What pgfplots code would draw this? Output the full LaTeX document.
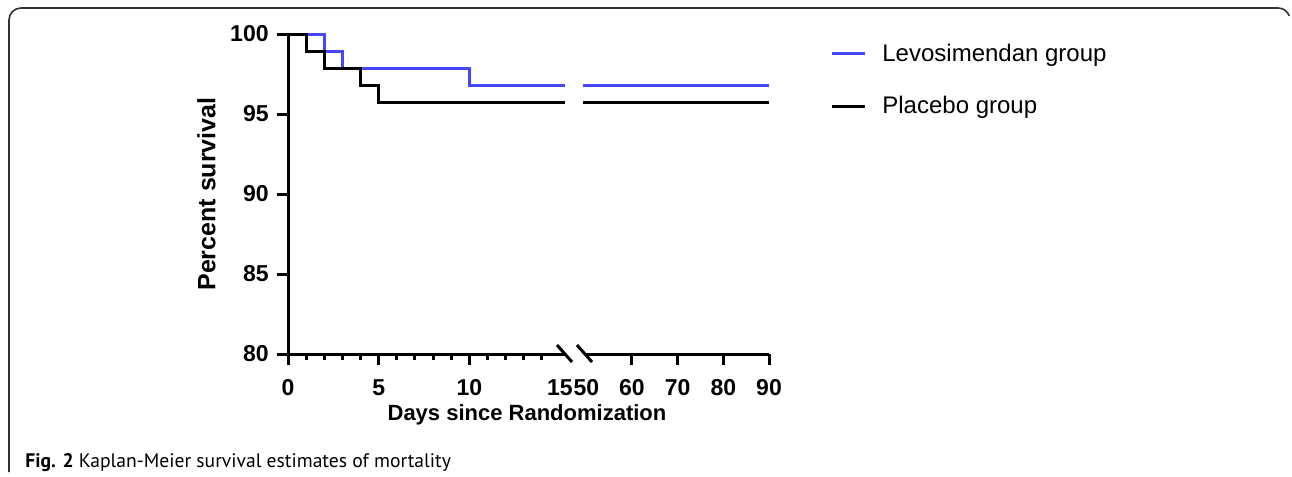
\documentclass[border=0pt]{standalone}
\usepackage{pgfplots}
\pgfplotsset{compat=1.18}
\usepackage{fontspec}
\setmainfont{Liberation Sans}
\newfontfamily\capfont{PT Sans}
\definecolor{levo}{RGB}{70,70,255}
\definecolor{framec}{RGB}{50,50,50}
\pgfplotsset{
  kmbase/.style={
    scale only axis, height=160pt, ymin=80, ymax=100,
    major tick length=5.5pt, minor tick length=3pt,
    xtick style={line width=1.5pt, black},
    ytick style={line width=1.5pt, black},
    tick label style={font=\fontsize{11.5}{13}\selectfont\bfseries},
    xticklabel style={anchor=north, inner sep=0pt, yshift=-7pt},
    yticklabel style={anchor=east, inner sep=0pt, xshift=-4pt},
    /pgf/number format/assume math mode=true,
    clip=false,
  },
  noarrows/.style={
    axis line style={-, line width=1.5pt},
    x axis line style={-},
    y axis line style={-},
    every outer x axis line/.append style={-},
    every outer y axis line/.append style={-},
  }
}
\begin{document}
\begin{tikzpicture}
\useasboundingbox (0,0) rectangle (646pt,-238.5pt);
% figure frame
\draw[framec, line width=0.8pt] (4.5pt,-236pt) -- (4.5pt,-10pt) arc[start angle=180, end angle=90, radius=6pt] -- (639pt,-4pt) arc[start angle=90, end angle=20, radius=6pt];
% left segment
\begin{axis}[kmbase, at={(144pt,-177pt)}, anchor=south west, width=138.5pt,
  xmin=0, xmax=15.276, axis x line=bottom, axis y line=left, noarrows, tick align=outside,
  xtick={0,5,10}, minor xtick={1,...,14},
  extra x ticks={15}, extra x tick style={major tick length=0pt, xticklabel style={yshift=-5.5pt}},
  ytick={80,85,90,95,100}]
\addplot[const plot, levo, line width=1.5pt] coordinates {(0,100) (2,98.925) (3,97.85) (10,96.774) (15.276,96.774)};
\addplot[const plot, black, line width=1.5pt] coordinates {(0,100) (1,98.925) (2,97.85) (4,96.774) (5,95.70) (15.276,95.70)};
\end{axis}
% right segment
\begin{axis}[kmbase, at={(292.5pt,-177pt)}, anchor=south west, width=92pt,
  xmin=49.71, xmax=90, axis x line=bottom, axis y line=none, noarrows, tick align=outside,
  xtick={60,70,80,90},
  extra x ticks={50}, extra x tick style={major tick length=0pt, xticklabel style={yshift=-5.5pt}},
  legend style={draw=none, fill=none, at={(1.3315,0.856)}, anchor=west,
    font=\fontsize{12}{14}\selectfont, row sep=12pt, column sep=6pt, inner sep=0pt},
  legend cell align=left,
  legend image code/.code={\draw[#1] (0pt,0pt) -- (16.5pt,0pt);}]
\addplot[levo, line width=1.5pt] coordinates {(49.3,96.774) (90,96.774)};
\addlegendentry{Levosimendan group}
\addplot[black, line width=1.5pt] coordinates {(49.3,95.70) (90,95.70)};
\addlegendentry{Placebo group}
\end{axis}
% axis break marks
\draw[line width=1.5pt] (278.5pt,-172.5pt) -- (286pt,-181pt);
\draw[line width=1.5pt] (288.5pt,-172.5pt) -- (296pt,-181pt);
% axis titles
\node[font=\fontsize{11}{13}\selectfont\bfseries, anchor=base, inner sep=0pt] at (263.5pt,-210.4pt) {Days since Randomization};
\node[font=\fontsize{12.5}{14}\selectfont\bfseries, rotate=90, inner sep=0pt] at (103.25pt,-97pt) {Percent survival};
% caption
\node[anchor=base west, inner sep=0pt, font=\capfont\fontsize{9.8}{12}\selectfont] at (12.5pt,-233.9pt) {\textbf{Fig. 2} Kaplan-Meier survival estimates of mortality};
\end{tikzpicture}
\end{document}
